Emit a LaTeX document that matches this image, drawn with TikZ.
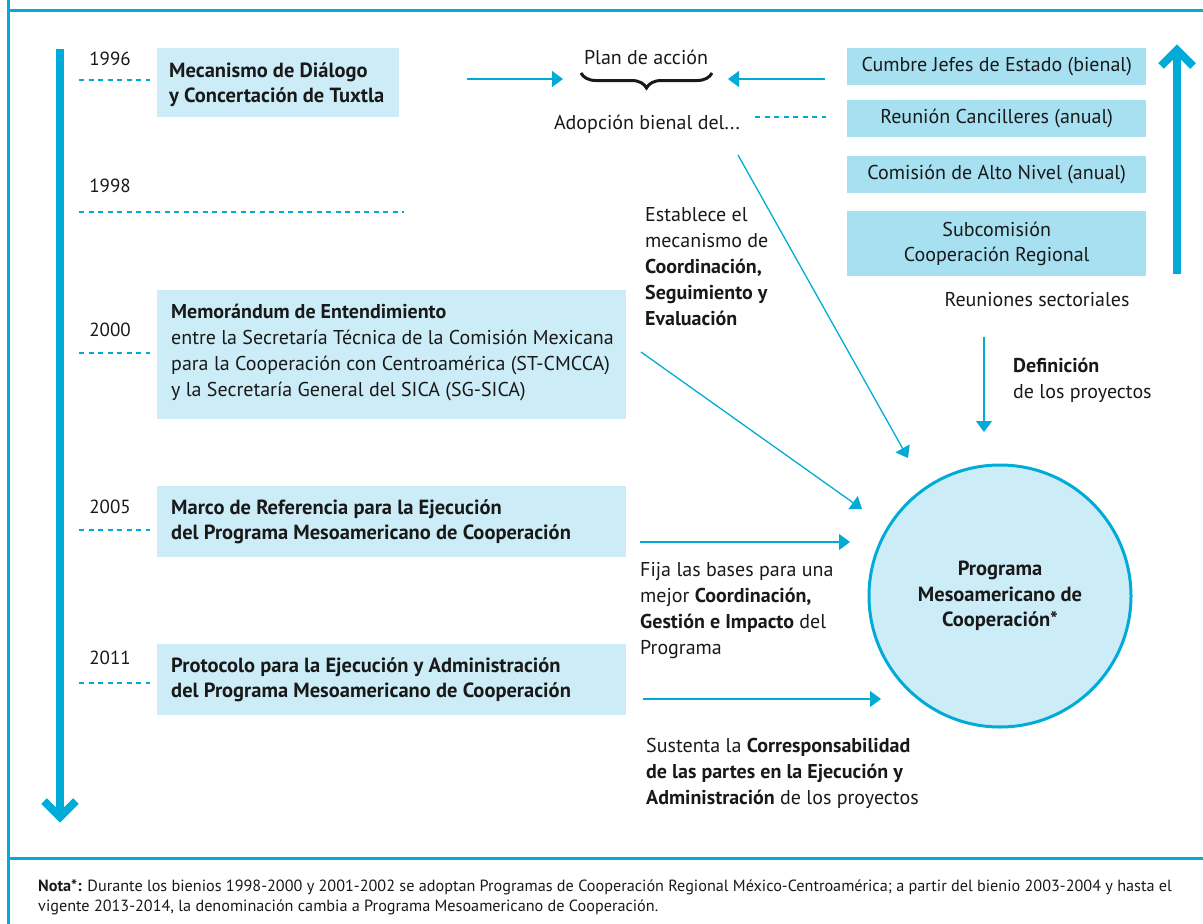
\documentclass[tikz,border=0pt]{standalone}
\usepackage{fontspec}
\setmainfont{PT Sans}
\usetikzlibrary{arrows.meta,decorations.pathreplacing}
\definecolor{cy}{RGB}{0,172,215}
\definecolor{lightbox}{RGB}{204,237,247}
\definecolor{midbox}{RGB}{167,224,241}
\definecolor{ink}{RGB}{25,25,25}
\newcommand\mainf{\fontsize{20}{26}\selectfont}
\newcommand\mainb{\fontsize{20.5}{25.5}\selectfont\bfseries}
\newcommand\yearf{\fontsize{19}{26}\selectfont}
\newcommand\notef{\fontsize{16.2}{20}\selectfont}
\tikzset{
  boxfill/.style={fill=lightbox, anchor=north west, inner sep=0pt},
  rbox/.style={fill=midbox, anchor=north west, minimum width=299pt, inner sep=0pt, align=center, font=\mainf, text=ink},
  yr/.style={font=\yearf, text=ink, anchor=base, inner sep=0pt},
  tick/.style={cy, dash pattern=on 5pt off 4.5pt, line width=1.3pt},
  conn/.style={cy, line width=1.3pt, -{Triangle[length=11pt,width=16pt]}},
  lbl/.style={font=\mainf, align=left, anchor=base west, inner sep=0pt, text=ink},
  frame/.style={cy, line width=3pt},
  bigarrow/.style={cy, line width=8pt},
}
\begin{document}
\begin{tikzpicture}[x=1pt,y=-1pt]
\useasboundingbox (0,0) rectangle (1203,924);
% frame
\draw[frame] (8,0) -- (8,924);
\draw[frame] (8,10) -- (1203,10);
\draw[frame] (8,858) -- (1203,858);
% timeline arrow
\draw[bigarrow] (60,49) -- (60,817);
\draw[bigarrow, miter limit=10] (44,801) -- (60,817) -- (76,801);
% hierarchy arrow
\draw[bigarrow] (1177,274) -- (1177,50);
\draw[bigarrow, miter limit=10] (1161,66) -- (1177,50) -- (1193,66);
% years and ticks
\node[yr] (y96) at (110,65) {1996};
\draw[tick] (79,80) -- (150,80);
\node[yr] (y98) at (110,192) {1998};
\draw[tick] (79,212) -- (404,212);
\node[yr] (y00) at (110,336) {2000};
\draw[tick] (79,353) -- (150,353);
\node[yr] (y05) at (110,513) {2005};
\draw[tick] (79,530) -- (150,530);
\node[yr] (y11) at (110,664) {2011};
\draw[tick] (79,683) -- (150,683);
% left boxes (text anchored at the baseline of its last line)
\node[boxfill, minimum width=242pt, minimum height=69pt] (b1) at (157,48) {};
\node[lbl, font=\mainb] (t1) at (169,102.5) {Mecanismo de Diálogo\\y Concertación de Tuxtla};
\node[boxfill, minimum width=469pt, minimum height=129pt] (b2) at (157,290) {};
\node[lbl] (t2) at (171,396) {\textbf{Memorándum de Entendimiento}\\entre la Secretaría Técnica de la Comisión Mexicana\\para la Cooperación con Centroamérica (ST-CMCCA)\\y la Secretaría General del SICA (SG-SICA)};
\node[boxfill, minimum width=469pt, minimum height=71pt] (b3) at (157,486) {};
\node[lbl, font=\mainb] (t3) at (171,539.5) {Marco de Referencia para la Ejecución\\del Programa Mesoamericano de Cooperación};
\node[boxfill, minimum width=469pt, minimum height=71pt] (b4) at (157,644) {};
\node[lbl, font=\mainb] (t4) at (171,697.5) {Protocolo para la Ejecución y Administración\\del Programa Mesoamericano de Cooperación};
% right boxes
\node[rbox, minimum height=37pt] (r1) at (847,48) {Cumbre Jefes de Estado (bienal)};
\node[rbox, minimum height=37pt] (r2) at (847,100) {Reunión Cancilleres (anual)};
\node[rbox, minimum height=37pt] (r3) at (847,156) {Comisión de Alto Nivel (anual)};
\node[rbox, minimum height=65pt, font=\fontsize{20}{25}\selectfont] (r4) at (847,211) {Subcomisión\\Cooperación Regional};
\node[yr, font=\mainf] (rs) at (1037,306) {Reuniones sectoriales};
% plan de accion
\node[yr, font=\mainf] (plan) at (646,64) {Plan de acción};
\node[yr, font=\mainf] (adop) at (647,129) {Adopción bienal del...};
\draw[line width=3pt, ink, decorate, decoration={brace, mirror, amplitude=15pt}] (581,73) -- (712,73);
\draw[tick] (755,117) -- (826,117);
% circle
\node[circle, draw=cy, line width=3pt, fill=lightbox, minimum size=262pt, inner sep=0pt, align=center, font=\mainb, text=ink] (pmc) at (1000,596) {Programa\\Mesoamericano de\\Cooperación*};
% labels
\node[lbl] (l1) at (645,325) {Establece el\\mecanismo de\\\textbf{Coordinación,}\\\textbf{Seguimiento y}\\\textbf{Evaluación}};
\node[lbl] (l2) at (640,654) {Fija las bases para una\\mejor \textbf{Coordinación,}\\\textbf{Gestión e Impacto} del\\Programa};
\node[lbl] (l3) at (646,804) {Sustenta la \textbf{Corresponsabilidad}\\\textbf{de las partes en la Ejecución y}\\\textbf{Administración} de los proyectos};
\node[lbl] (l4) at (1013,398) {\textbf{Definición}\\de los proyectos};
% connector end points
\coordinate (a1s) at (467,79); \coordinate (a1e) at (563,79);
\coordinate (a2s) at (825,79); \coordinate (a2e) at (728,79);
\coordinate (d1s) at (738,155); \coordinate (d1e) at (908,458);
\coordinate (d2s) at (641,352); \coordinate (d2e) at (862,509);
\coordinate (h1s) at (640,542); \coordinate (h1e) at (850,542);
\coordinate (h2s) at (643,699); \coordinate (h2e) at (881,699);
\coordinate (v1s) at (984,337); \coordinate (v1e) at (984,432);
\draw[conn] (a1s) -- (a1e);
\draw[conn] (a2s) -- (a2e);
\draw[conn] (d1s) -- (d1e);
\draw[conn] (d2s) -- (d2e);
\draw[conn] (h1s) -- (h1e);
\draw[conn] (h2s) -- (h2e);
\draw[conn] (v1s) -- (v1e);
% note
\node[lbl, font=\notef] (note) at (38,911) {\textbf{Nota*:} Durante los bienios 1998-2000 y 2001-2002 se adoptan Programas de Cooperación Regional México-Centroamérica; a partir del bienio 2003-2004 y hasta el\\vigente 2013-2014, la denominación cambia a Programa Mesoamericano de Cooperación.};
\end{tikzpicture}
\end{document}
